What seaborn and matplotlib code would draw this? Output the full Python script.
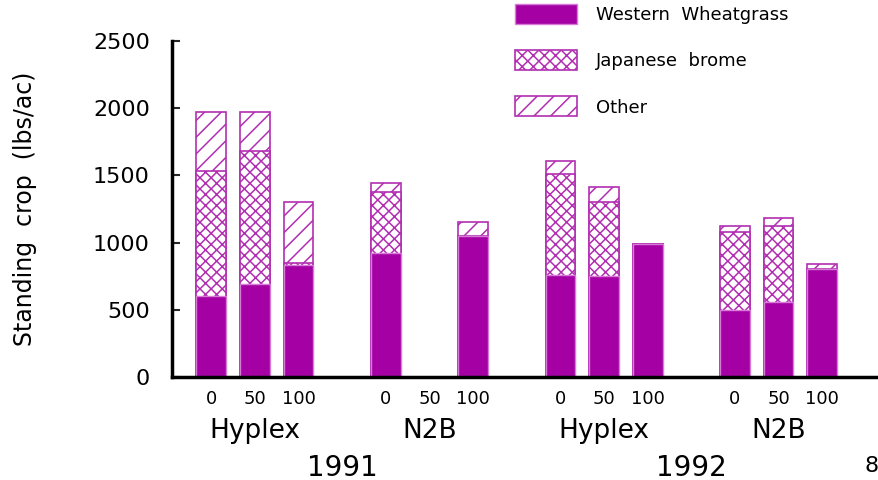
import numpy as np
import pandas as pd
import matplotlib
matplotlib.use('Agg')
import matplotlib.pyplot as plt
import seaborn as sns
from matplotlib.patches import Patch

# -------------------------------
# Data
# -------------------------------
years = ["1991", "1992"]
products = ["Hyplex", "N2B"]
rates = ["0", "50", "100"]

# one value per bar: 1991 Hyplex, 1991 N2B, 1992 Hyplex, 1992 N2B (rates 0, 50, 100)
western = [600, 690, 830, 920, 0, 1050, 760, 750, 990, 500, 560, 805]
japanese = [930, 990, 15, 460, 0, 0, 750, 550, 0, 580, 565, 0]
other = [440, 290, 455, 60, 0, 100, 100, 115, 0, 45, 55, 35]

purple = "#A400A4"
hatch_col = "#B22FB2"

rows = []
for g, (yr, prod) in enumerate([(y, p) for y in years for p in products]):
    for r, rate in enumerate(rates):
        i = g * 3 + r
        rows.append({"pos": g * 4 + r, "year": yr, "product": prod, "rate": rate,
                     "ww": western[i], "jb": japanese[i], "ot": other[i]})
df = pd.DataFrame(rows)
df["ww_jb"] = df["ww"] + df["jb"]
df["total"] = df["ww_jb"] + df["ot"]

# -------------------------------
# Plot
# -------------------------------
sns.set_style("white")
plt.rcParams['font.family'] = ['DejaVu Sans']
plt.rcParams['hatch.linewidth'] = 1.1
plt.rcParams['text.color'] = 'black'

fig = plt.figure(figsize=(8.79, 4.8), dpi=100)
ax = fig.add_axes([172 / 879, 1 - 377 / 480, 1 - 172 / 879, (377 - 41) / 480])

# draw back to front: total (other), ww+jb (brome), ww (solid)
sns.barplot(data=df, x="pos", y="total", native_scale=True, width=0.68,
            color="white", edgecolor=hatch_col, hatch="//", linewidth=1.2,
            errorbar=None, ax=ax)
sns.barplot(data=df, x="pos", y="ww_jb", native_scale=True, width=0.68,
            color="white", edgecolor=hatch_col, hatch="xxx", linewidth=1.2,
            errorbar=None, ax=ax)
sns.barplot(data=df, x="pos", y="ww", native_scale=True, width=0.68,
            color=purple, edgecolor="#D77BD7", linewidth=1.0, saturation=1,
            errorbar=None, ax=ax)

ax.set_ylim(0, 2500)
ax.set_xlim(-0.9, 15.3)
ax.set_yticks(np.arange(0, 2501, 500))
ax.set_yticklabels([str(v) for v in range(0, 2501, 500)], fontsize=16, color="black")
ax.tick_params(axis="y", direction="in", length=6, width=1.5, left=True, pad=16)
ax.set_xticks(df["pos"])
ax.set_xticklabels(df["rate"], fontsize=13, color="black")
ax.tick_params(axis="x", length=0, pad=9)
ax.set_xlabel("")
ax.set_ylabel("Standing  crop  (lbs/ac)", fontsize=17, labelpad=40, color="black")

for side in ["top", "right"]:
    ax.spines[side].set_visible(False)
for side in ["left", "bottom"]:
    ax.spines[side].set_linewidth(2.5)
    ax.spines[side].set_color("black")

# group and year labels under the rate labels
trans = ax.get_xaxis_transform()
for g, (yr, prod) in enumerate([(y, p) for y in years for p in products]):
    ax.text(g * 4 + 1, -0.16, prod, transform=trans, ha="center", va="center",
            fontsize=19, clip_on=False)
for k, yr in enumerate(years):
    ax.text(k * 8 + 3, -0.27, yr, transform=trans, ha="center", va="center",
            fontsize=20, clip_on=False)
fig.text(872 / 879, 1 - 466 / 480, "8", ha="center", va="center", fontsize=16)

handles = [Patch(facecolor=purple, edgecolor="#D77BD7", linewidth=1.0),
           Patch(facecolor="white", edgecolor=hatch_col, hatch="xxx", linewidth=1.2),
           Patch(facecolor="white", edgecolor=hatch_col, hatch="//", linewidth=1.2)]
labels = ["Western  Wheatgrass", "Japanese  brome", "Other"]
fig.legend(handles, labels, loc="upper left", bbox_to_anchor=(515 / 879, 1 - 4 / 480),
           frameon=False, fontsize=13, handlelength=3.45, handleheight=1.33,
           labelspacing=1.45, handletextpad=1.05, borderpad=0, borderaxespad=0)

fig.savefig("out.png", dpi=100)
plt.close()
